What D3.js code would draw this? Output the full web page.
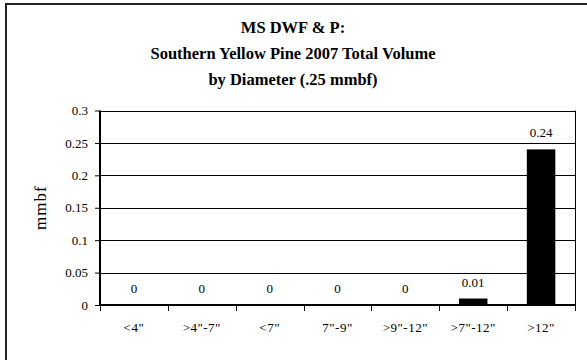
<!DOCTYPE html>
<html><head><meta charset="utf-8">
<script src="https://cdn.jsdelivr.net/npm/d3@7"></script>
<style>body{margin:0;background:#fff}svg{display:block}text{font-family:"Liberation Serif","Times New Roman",serif}</style>
</head><body>
<svg id="c" width="587" height="360"></svg>
<script>
const categories = ['<4"', '>4"-7"', '<7"', '7"-9"', '>9"-12"', '>7"-12"', '>12"'];
const values = [0, 0, 0, 0, 0, 0.01, 0.24];
const valueLabels = ["0", "0", "0", "0", "0", "0.01", "0.24"];
const yTicks = [0, 0.05, 0.1, 0.15, 0.2, 0.25, 0.3];
const yTickLabels = ["0", "0.05", "0.1", "0.15", "0.2", "0.25", "0.3"];
const titleLines = ["MS DWF & P:", "Southern Yellow Pine 2007 Total Volume", "by Diameter (.25 mmbf)"];
const yTitle = "mmbf";

const svg = d3.select("#c");
svg.append("rect").attr("x", 6).attr("y", 4).attr("width", 620).attr("height", 400)
  .attr("fill", "#fff").attr("stroke", "#222").attr("stroke-width", 2);

const m = {left: 100, right: 575, top: 110.5, bottom: 305};
const x = d3.scaleBand().domain(categories).range([m.left, m.right]).paddingInner(0.58).paddingOuter(0.29);
const xb = d3.scaleBand().domain(categories).range([m.left, m.right]);
const y = d3.scaleLinear().domain([0, 0.3]).range([m.bottom, m.top]);

// gridlines
svg.append("g").selectAll("line").data(yTicks.slice(1)).join("line")
  .attr("x1", m.left).attr("x2", m.right)
  .attr("y1", d => Math.round(y(d)) + 0.5).attr("y2", d => Math.round(y(d)) + 0.5)
  .attr("stroke", "#000").attr("stroke-width", 1);
// right border
svg.append("line").attr("x1", m.right + 0.5).attr("x2", m.right + 0.5)
  .attr("y1", m.top).attr("y2", m.bottom).attr("stroke", "#000");

// bars
svg.append("g").selectAll("rect").data(values).join("rect")
  .attr("x", (d, i) => x(categories[i])).attr("width", x.bandwidth())
  .attr("y", d => y(d)).attr("height", d => m.bottom - y(d)).attr("fill", "#000");

// value labels
svg.append("g").selectAll("text").data(values).join("text")
  .attr("x", (d, i) => xb(categories[i]) + xb.bandwidth() / 2)
  .attr("y", d => y(d) - 12)
  .attr("text-anchor", "middle").attr("font-size", 13).attr("fill", "#000")
  .text((d, i) => valueLabels[i]);

// y axis
const yAxis = d3.axisLeft(y).tickValues(yTicks).tickFormat((d, i) => yTickLabels[i]).tickSize(5).tickPadding(7);
const gy = svg.append("g").attr("transform", `translate(${m.left},0)`).call(yAxis);
gy.select(".domain").attr("stroke", "#000").attr("stroke-width", 2).attr("d", `M0,${m.top}V${m.bottom}`);
gy.selectAll(".tick line").attr("stroke", "#000");
gy.selectAll("text").attr("font-size", 13).attr("font-family", "Liberation Serif").attr("fill", "#000");

// x axis
const gx = svg.append("g").attr("transform", `translate(0,${m.bottom})`);
gx.append("line").attr("x1", m.left).attr("x2", m.right + 1).attr("y1", 0).attr("y2", 0)
  .attr("stroke", "#000").attr("stroke-width", 2);
const bounds = categories.map(c => xb(c)).concat([m.right]);
gx.selectAll("line.t").data(bounds).join("line").attr("class", "t")
  .attr("x1", d => Math.round(d) + 0.5).attr("x2", d => Math.round(d) + 0.5)
  .attr("y1", 0).attr("y2", 6).attr("stroke", "#000");
gx.selectAll("text").data(categories).join("text")
  .attr("x", d => xb(d) + xb.bandwidth() / 2).attr("y", 27)
  .attr("text-anchor", "middle").attr("font-size", 13).attr("letter-spacing", 0.5).attr("fill", "#000")
  .text(d => d);

// y title
svg.append("text").attr("transform", `translate(46,${(m.top + m.bottom) / 2}) rotate(-90)`)
  .attr("text-anchor", "middle").attr("font-size", 17).attr("letter-spacing", 1).attr("fill", "#000").text(yTitle);

// title
svg.append("g").selectAll("text").data(titleLines).join("text")
  .attr("x", 293).attr("y", (d, i) => 33 + i * 26)
  .attr("text-anchor", "middle").attr("font-size", 16.5).attr("font-weight", "bold").attr("fill", "#000")
  .text(d => d);
</script>
</body></html>
